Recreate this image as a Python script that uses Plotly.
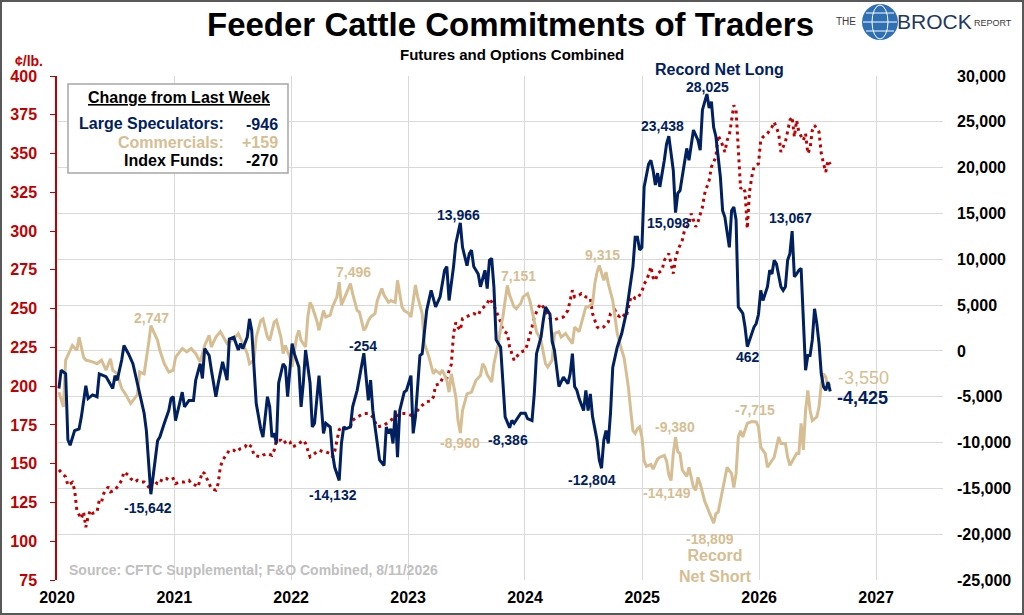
import pandas as pd
import plotly.graph_objects as go

# weekly COT reports, counted in weeks from the first report of 2020
start = pd.Timestamp("2020-01-07")

spec_weeks = [
    0, 1, 3, 4, 5, 7, 9, 10, 12, 13,
    15, 17, 18, 21, 24, 25, 26, 28, 29, 31,
    33, 36, 38, 39, 41, 44, 45, 47, 49, 50,
    51, 52, 55, 56, 58, 60, 61, 63, 64, 65,
    67, 68, 70, 71, 73, 75, 76, 78, 80, 81,
    82, 84, 85, 86, 88, 90, 91, 93, 94, 95,
    96, 97, 98, 100, 101, 102, 104, 105, 107, 108,
    109, 110, 112, 113, 114, 116, 117, 118, 119, 121,
    122, 123, 125, 126, 127, 128, 130, 131, 133, 135,
    136, 137, 138, 139, 140, 142, 143, 145, 146, 147,
    148, 149, 150, 151, 152, 154, 155, 157, 158, 159,
    161, 162, 164, 166, 168, 170, 172, 173, 174, 176,
    177, 179, 180, 182, 183, 184, 185, 187, 188, 190,
    191, 192, 193, 194, 195, 197, 198, 199, 201, 202,
    203, 205, 206, 208, 209, 211, 212, 213, 215, 216,
    217, 219, 220, 221, 222, 223, 225, 227, 228, 229,
    230, 231, 232, 234, 235, 236, 237, 238, 240, 241,
    242, 243, 244, 245, 246, 247, 249, 250, 251, 252,
    253, 256, 257, 258, 259, 260, 261, 263, 264, 265,
    266, 267, 268, 270, 271, 272, 274, 275, 276, 277,
    279, 280, 281, 283, 285, 286, 287, 289, 290, 291,
    292, 293, 295, 296, 297, 299, 300, 301, 302, 303,
    305, 306, 307, 308, 310, 311, 312, 313, 314, 316,
    317, 318, 319, 320, 322, 323, 324, 325, 326, 327,
    328, 329, 330, 331, 332, 333, 334, 335, 336, 337,
    338, 339, 340, 341, 342, 343, 344,
]
spec_net = [
    -4100, -2100, -2500, -9700, -10300, -8700, -8500, -7200, -3800, -5200,
    -4800, -5000, -2500, -2800, -4100, -2700, -3200, -1000, 600, -300,
    -1400, -4800, -6800, -8700, -15642, -9800, -9400, -7900, -6500, -5200,
    -5000, -7600, -4500, -6100, -5400, -5400, -3200, -1400, -3000, 250,
    -500, -2100, -5000, -3600, -1200, -3200, 1300, 1500, 100, 800,
    250, 1500, 3500, 2200, -5750, -8500, -9400, -5000, -6100, -9400,
    -9000, -10100, -3500, -1400, -1750, -5000, 800, -300, -1750, -6100,
    -3500, 100, -3500, -8300, -7900, -2700, -5400, -9000, -7900, -8300,
    -11200, -12700, -14132, -10100, -8300, -8500, -8300, -6100, -4300, -1750,
    -254, -2850, -5400, -3200, -6500, -10100, -11900, -12500, -8300, -9000,
    -8500, -10100, -6500, -11600, -6500, -4500, -4300, -2700, -9000, -7200,
    -500, -300, 4400, 6600, 4800, 5900, 8800, 9200, 5500, 9200,
    11700, 13966, 11300, 9300, 10600, 11000, 9200, 8400, 7000, 8800,
    6800, 9900, 10100, 7000, 1200, 400, -3900, -7200, -8386, -7600,
    -7900, -7200, -6800, -6800, -7400, -7600, -4700, -300, 1500, 3300,
    4800, 4000, 1000, 65, -2100, -3900, -2850, -3570, -2500, -300,
    -3900, -4300, -5200, -6500, -4300, -6500, -4700, -7200, -9760, -11900,
    -12804, -9760, -8700, -10100, -6800, -1800, 400, 1200, 1900, 3000,
    4100, 9200, 12400, 12400, 11000, 11300, 17900, 20400, 20800, 19700,
    18100, 19400, 17900, 20800, 22600, 23438, 19700, 15098, 17200, 17500,
    20400, 22100, 20800, 24100, 23000, 21900, 26300, 28025, 26500, 27200,
    24400, 23400, 19000, 15300, 14600, 11300, 15300, 15700, 14300, 4800,
    4100, 2600, 462, 1200, 2600, 3000, 4000, 6600, 5500, 7000,
    8800, 8400, 9900, 9500, 7000, 6600, 7000, 9900, 10600, 13067,
    8100, 8400, 8800, 9000, 3000, -2100, -500, -500, 1200, 4600,
    3000, 800, -2500, -3900, -4300, -3400, -4425,
]

comm_weeks = [
    0, 2, 3, 5, 6, 8, 9, 11, 12, 15,
    17, 19, 21, 23, 24, 26, 28, 30, 32, 35,
    36, 38, 39, 40, 41, 44, 45, 47, 49, 51,
    52, 55, 57, 59, 61, 63, 65, 67, 68, 70,
    72, 75, 78, 80, 84, 85, 87, 88, 90, 91,
    93, 94, 96, 97, 99, 100, 101, 103, 104, 106,
    107, 108, 110, 111, 112, 113, 115, 116, 118, 119,
    121, 122, 124, 125, 126, 128, 130, 131, 133, 134,
    136, 137, 138, 139, 141, 142, 144, 145, 147, 148,
    150, 151, 153, 154, 156, 157, 159, 160, 162, 163,
    165, 167, 168, 170, 171, 173, 174, 175, 177, 178,
    179, 180, 182, 184, 186, 188, 189, 190, 191, 193,
    194, 195, 196, 197, 198, 199, 200, 201, 203, 204,
    206, 207, 209, 210, 212, 213, 215, 216, 217, 218,
    220, 221, 223, 224, 226, 227, 229, 230, 232, 233,
    235, 236, 238, 239, 240, 241, 243, 244, 245, 247,
    248, 249, 251, 252, 253, 254, 255, 256, 257, 258,
    259, 260, 261, 262, 264, 265, 267, 268, 270, 271,
    272, 273, 274, 275, 276, 277, 278, 280, 281, 283,
    284, 285, 286, 287, 288, 289, 290, 291, 292, 293,
    294, 295, 297, 298, 300, 301, 302, 303, 304, 305,
    307, 309, 311, 312, 313, 315, 316, 318, 319, 321,
    322, 324, 325, 326, 328, 329, 330, 331, 332, 333,
    334, 335, 336, 338, 339, 340, 341, 342, 343, 344,
]
comm_net = [
    -4500, -6100, -1000, 65, 600, 65, 1500, -700, -1000, -1200,
    -1400, -1000, -2100, -850, -2100, -2500, -4100, -4850, -5750, -4770,
    -2300, -2500, -1000, 800, 2747, 1150, 65, -1400, -2300, -2100,
    -700, 250, -100, 250, -300, -1200, 600, 1700, 430, 1500,
    2100, 800, 1300, 1900, -300, -1400, -1000, 1500, 3300, 3500,
    1500, 1150, 3150, 3350, 1500, -300, 600, -700, -1750, 1500,
    2250, 1150, 430, 3700, 5300, 4800, 3300, 2250, 4400, 3700,
    3900, 4800, 5900, 7496, 5000, 6250, 7340, 6250, 4400, 4250,
    2250, 2600, 3300, 3700, 4100, 5500, 6800, 6100, 5300, 5500,
    5300, 7700, 4800, 4400, 4100, 3700, 7200, 5900, 4100, 800,
    -650, -2500, -2100, -2500, -2100, -3200, -4500, -2500, -5000, -7600,
    -8960, -6500, -4700, -4500, -3200, -2700, -1400, -1800, -2600, -3400,
    -1400, -300, 800, 2500, 3700, 5500, 7151, 6070, 4800, 4600,
    5200, 5900, 6250, 5500, 3300, 2100, 1150, -300, -1400, -1750,
    -1000, 1900, 2100, 1500, 1900, 1500, 800, 2600, 2100, 3000,
    4800, 4800, 5160, 7350, 8600, 9315, 7700, 8600, 7350, 5500,
    3700, 1900, 65, -700, -2300, -4000, -6500, -8700, -9000, -8500,
    -8300, -9400, -12000, -12600, -12400, -12900, -11800, -11600, -11400, -12000,
    -13500, -14149, -11200, -9380, -11000, -11200, -13000, -13700, -12700, -14900,
    -15200, -13800, -14500, -15600, -16400, -17000, -17700, -18200, -18809, -17770,
    -17600, -16300, -13800, -12700, -13400, -14900, -13400, -9400, -8700, -9400,
    -7900, -7715, -7760, -8300, -10500, -11200, -12700, -11900, -11600, -9400,
    -10100, -10100, -11600, -12500, -11600, -11200, -11200, -7900, -10800, -6500,
    -4300, -6500, -7600, -7200, -6100, -3570, -2500, -2850, -3900, -3550,
]

price_weeks = [
    0, 3, 4, 6, 7, 8, 9, 10, 11, 12,
    13, 14, 15, 17, 18, 19, 20, 22, 23, 25,
    26, 28, 29, 31, 32, 34, 35, 37, 38, 40,
    41, 42, 44, 45, 46, 48, 49, 51, 52, 54,
    56, 58, 59, 61, 62, 64, 65, 67, 68, 70,
    71, 72, 73, 75, 76, 78, 79, 81, 83, 84,
    86, 87, 90, 91, 93, 95, 96, 97, 99, 100,
    102, 103, 104, 106, 108, 109, 110, 112, 113, 115,
    116, 118, 119, 121, 122, 123, 124, 125, 127, 128,
    130, 131, 133, 136, 138, 140, 142, 145, 147, 149,
    151, 153, 155, 157, 158, 160, 162, 164, 166, 167,
    168, 170, 171, 172, 173, 174, 175, 176, 177, 178,
    179, 180, 183, 185, 187, 188, 191, 192, 194, 195,
    197, 198, 200, 201, 203, 204, 206, 208, 209, 211,
    212, 214, 215, 217, 219, 220, 223, 225, 227, 229,
    230, 232, 233, 235, 236, 237, 238, 240, 241, 243,
    245, 246, 248, 249, 250, 251, 253, 254, 255, 256,
    257, 258, 260, 261, 262, 263, 264, 265, 266, 267,
    269, 270, 272, 273, 274, 275, 276, 278, 279, 281,
    282, 284, 285, 287, 288, 290, 291, 293, 294, 296,
    297, 298, 299, 300, 301, 302, 303, 304, 305, 306,
    307, 308, 309, 310, 312, 313, 314, 316, 318, 319,
    321, 322, 324, 325, 326, 327, 328, 329, 330, 332,
    333, 334, 335, 336, 337, 339, 340, 341, 342, 343,
    344,
]
price = [
    146, 141.5, 136, 138, 133, 120, 117, 114.6, 119, 109,
    115.7, 120, 118, 119, 126.4, 125.3, 130.8, 135, 131.8, 133,
    135, 139.3, 144.7, 142.6, 140.4, 138.2, 139.3, 138.2, 138.2, 135,
    135, 139.3, 137.1, 137.1, 140.4, 140.4, 139.3, 140.4, 137.1, 138.2,
    138.2, 139.3, 137.1, 136.1, 135, 144.7, 143.6, 137.1, 133.9, 132.9,
    137.1, 147.9, 152.2, 156.5, 158.7, 158.7, 157.6, 159.8, 160.8, 163,
    160.8, 155.4, 154.4, 155.5, 156.5, 155.4, 158.7, 165.1, 165.1, 163,
    165.1, 164.1, 160.8, 161.9, 164.1, 165.1, 163, 154.4, 155.4, 157.6,
    158.7, 157.6, 157.6, 156.5, 154.4, 158, 165, 172, 173.7, 172.7,
    173.7, 178, 180.1, 182.3, 182.3, 180.1, 173.7, 174.8, 176.9, 179,
    181.2, 182.3, 182.3, 181.2, 179.1, 184.5, 187.6, 190, 190.5, 193,
    200.6, 201.6, 205, 205.9, 205, 210, 214, 233.9, 241, 238,
    236, 243.6, 245.7, 246.8, 245.7, 248.9, 253.2, 256.5, 252.1, 248.9,
    241.4, 236, 233.9, 225.3, 216.7, 218.8, 222, 223.1, 227.5, 238.2,
    244.6, 251.1, 253.2, 248.9, 243.6, 242.5, 243.6, 244.6, 248.9, 261.8,
    257.5, 258.6, 259.7, 257.5, 257.5, 256.5, 246.8, 238.2, 237.1, 238.2,
    241.4, 246.8, 248.9, 245.7, 245, 246.8, 244.5, 250, 257, 258,
    256.5, 256.5, 261, 266, 268, 272, 277, 270, 268, 272.6,
    274.8, 281.2, 285.5, 279, 272.6, 282.3, 287.6, 294.1, 300.5, 304.8,
    311.3, 302.7, 305.9, 315.5, 324.2, 332.8, 341.3, 347.8, 361.8, 355.3,
    351, 358.5, 361.8, 371.4, 381.1, 377.9, 351, 327.4, 328.5, 325.3,
    301.6, 325.3, 334.9, 341.3, 343.5, 358.5, 360.7, 362.9, 367.1, 370.3,
    362.9, 351, 357.4, 365, 371.4, 373.6, 360.7, 371.4, 363.9, 358.5,
    362.9, 350, 353.2, 365, 368.2, 363.9, 350, 343.5, 338.1, 345.6,
    343,
]

assert len(spec_weeks) == len(spec_net)
assert len(comm_weeks) == len(comm_net)
assert len(price_weeks) == len(price)

years = list(range(2020, 2028))
left_ticks = list(range(75, 401, 25))
right_ticks = list(range(-25000, 30001, 5000))
right_labels = [f"{v:,}" for v in right_ticks]


def to_dates(weeks):
    return start + pd.to_timedelta([w * 7 for w in weeks], unit="D")


NAVY = "#002060"
TAN = "#D6BE92"
RED = "#C00000"
FONT = "Arial, Liberation Sans, sans-serif"

W, H = 1024, 615
L, R, T, B = 57, 81, 76, 35
PW, PH = W - L - R, H - T - B


def px(x):
    return (x - L) / PW


def py(y):
    return (H - B - y) / PH


def note(text, x, y, size=14, color="black", anchor="center", bold=True, **kw):
    return dict(
        text=f"<b>{text}</b>" if bold else text,
        x=px(x), y=py(y), xref="paper", yref="paper",
        xanchor=anchor, yanchor="middle", showarrow=False,
        font=dict(size=size, color=color, family=FONT), **kw
    )


fig = go.Figure()
fig.add_trace(go.Scatter(
    x=to_dates(price_weeks), y=price, mode="lines", yaxis="y",
    line=dict(color=RED, width=3, dash="3px,4px"), hoverinfo="skip"))
fig.add_trace(go.Scatter(
    x=to_dates(comm_weeks), y=comm_net, mode="lines", yaxis="y2",
    line=dict(color=TAN, width=3), hoverinfo="skip"))
fig.add_trace(go.Scatter(
    x=to_dates(spec_weeks), y=spec_net, mode="lines", yaxis="y2",
    line=dict(color=NAVY, width=3), hoverinfo="skip"))

annotations = [
    note("Feeder Cattle Commitments of Traders", 510, 25, size=33),
    note("Futures and Options Combined", 512, 55, size=15),
    note("¢/lb.", 29, 61, size=14, color=RED),
    note("THE", 846, 22, size=10, color="#3A3A3A", bold=False),
    note("BROCK", 934, 22, size=21, color="#1F3864", bold=False),
    note("REPORT", 993, 23, size=9, color="#3A3A3A", bold=False),
    # change box
    dict(note("Change from Last Week", 179, 98, size=16),
         font=dict(size=16, color="black", family=FONT, lineposition="under")),
    note("Large Speculators:", 226, 123, size=16, color=NAVY, anchor="right"),
    note("-946", 280, 124, size=16, color=NAVY, anchor="right"),
    note("Commercials:", 226, 142, size=16, color=TAN, anchor="right"),
    note("+159", 280, 142, size=16, color=TAN, anchor="right"),
    note("Index Funds:", 226, 160, size=16, color="black", anchor="right"),
    note("-270", 280, 161, size=16, color="black", anchor="right"),
    # data labels, large speculators
    note("Record Net Long", 719, 69, size=16, color=NAVY),
    note("28,025", 707, 87, color=NAVY),
    note("23,438", 662, 126, color=NAVY),
    note("15,098", 668, 223, color=NAVY),
    note("13,067", 790, 218, color=NAVY),
    note("13,966", 458, 215, color=NAVY),
    note("-254", 363, 346, color=NAVY),
    note("-15,642", 148, 508, color=NAVY),
    note("-14,132", 333, 495, color=NAVY),
    note("-8,386", 508, 440, color=NAVY),
    note("-12,804", 592, 480, color=NAVY),
    note("462", 748, 357, color=NAVY),
    note("-4,425", 862, 398, size=18, color=NAVY),
    # data labels, commercials
    note("2,747", 151, 318, color=TAN),
    note("7,496", 353, 272, color=TAN),
    note("7,151", 518, 276, color=TAN),
    note("9,315", 602, 255, color=TAN),
    note("-8,960", 460, 443, color=TAN),
    note("-9,380", 675, 427, color=TAN),
    note("-14,149", 667, 493, color=TAN),
    note("-7,715", 755, 410, color=TAN),
    note("-18,809", 710, 539, color=TAN),
    note("Record<br>Net Short", 715, 566, size=16, color=TAN),
    note("-3,550", 863, 378, size=18, color=TAN, bold=False),
    note("Source: CFTC Supplemental; F&O Combined, 8/11/2026", 67, 570,
         size=14, color="#BFBFBF", anchor="left"),
]

shapes = [
    # outer frame
    dict(type="rect", xref="paper", yref="paper",
         x0=px(1), x1=px(W - 1), y0=py(H - 1), y1=py(1),
         line=dict(color="#595959", width=2)),
    # change box
    dict(type="rect", xref="paper", yref="paper",
         x0=px(68), x1=px(288), y0=py(173), y1=py(84),
         line=dict(color="#A6A6A6", width=1.5), fillcolor="white", layer="above"),
    # globe logo
    dict(type="circle", xref="paper", yref="paper",
         x0=px(862), x1=px(898), y0=py(40), y1=py(4),
         line=dict(width=0), fillcolor="#2F6FB3"),
    dict(type="circle", xref="paper", yref="paper",
         x0=px(872), x1=px(888), y0=py(39), y1=py(5),
         line=dict(color="white", width=1)),
    dict(type="line", xref="paper", yref="paper",
         x0=px(863), x1=px(897), y0=py(22), y1=py(22),
         line=dict(color="white", width=1)),
    dict(type="line", xref="paper", yref="paper",
         x0=px(866), x1=px(894), y0=py(13), y1=py(13),
         line=dict(color="white", width=1)),
    dict(type="line", xref="paper", yref="paper",
         x0=px(866), x1=px(894), y0=py(31), y1=py(31),
         line=dict(color="white", width=1)),
]

fig.update_layout(
    width=W, height=H,
    margin=dict(l=L, r=R, t=T, b=B, autoexpand=False),
    paper_bgcolor="white", plot_bgcolor="white",
    showlegend=False,
    font=dict(family=FONT),
    xaxis=dict(
        type="date", range=["2020-01-01", "2027-07-29"],
        tickvals=[f"{y}-01-01" for y in years],
        ticktext=[f"<b>{y}</b>" for y in years],
        tickfont=dict(size=16, color="black"),
        showgrid=True, gridcolor="#D9D9D9", gridwidth=1,
        zeroline=False, showline=False, ticks="", ticklabelstandoff=6,
        automargin=False,
    ),
    yaxis=dict(
        range=[75, 400], tickvals=left_ticks,
        ticktext=[f"<b>{v}</b>" for v in left_ticks],
        tickfont=dict(size=16, color=RED),
        showgrid=False, zeroline=False,
        showline=True, linecolor=RED, linewidth=1.5,
        ticks="outside", ticklen=5, tickcolor=RED, ticklabelstandoff=10,
        automargin=False,
    ),
    yaxis2=dict(
        range=[-25000, 30000], overlaying="y", side="right",
        tickvals=right_ticks,
        ticktext=[f"<b>{t}</b>" for t in right_labels],
        tickfont=dict(size=16, color="black"),
        showgrid=True, gridcolor="#D9D9D9", gridwidth=1,
        zeroline=False, showline=False, ticks="", ticklabelstandoff=13,
        automargin=False,
    ),
    annotations=annotations,
    shapes=shapes,
)

# the page body has a default margin; drop it so the chart sits at the corner
fig.write_html("out.html", config={"displayModeBar": False},
               post_script="document.body.style.margin='0';")
